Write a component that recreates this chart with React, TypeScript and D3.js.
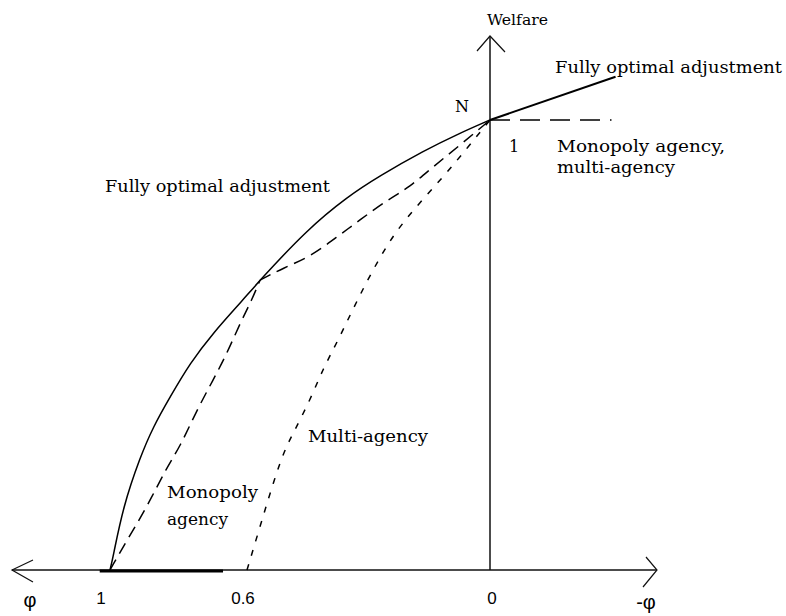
import * as d3 from "d3";

// phi on the horizontal axis (drawn right-to-left), welfare on the vertical
const xTickValues = [1, 0.6, 0];
const xTickLabels = ["1", "0.6", "0"];

const fullyOptimal: [number, number][] = [
  [1, 0], [0.991, 0.029], [0.962, 0.14], [0.912, 0.251], [0.874, 0.318],
  [0.825, 0.384], [0.766, 0.46], [0.699, 0.527], [0.612, 0.6], [0.568, 0.644],
  [0.452, 0.756], [0.353, 0.829], [0.272, 0.876], [0.165, 0.931], [0.074, 0.971], [0, 1],
];
const fullyOptimalBeyond: [number, number][] = [[0, 1], [-0.31, 1.096]];

const monopolyLower: [number, number][] = [
  [1, 0], [0.95, 0.067], [0.892, 0.14], [0.834, 0.229], [0.796, 0.273],
  [0.746, 0.356], [0.699, 0.422], [0.658, 0.482], [0.62, 0.549], [0.588, 0.6], [0.568, 0.644],
];
const monopolyUpper: [number, number][] = [
  [0.568, 0.644], [0.511, 0.671], [0.444, 0.696], [0.378, 0.74], [0.321, 0.778],
  [0.254, 0.822], [0.198, 0.851], [0.141, 0.896], [0.074, 0.944], [0, 1],
];

const multiAgency: [number, number][] = [
  [0.6, 0], [0.568, 0.096], [0.543, 0.171], [0.511, 0.26], [0.486, 0.304],
  [0.444, 0.378], [0.412, 0.448], [0.375, 0.51], [0.328, 0.6], [0.254, 0.727],
  [0.19, 0.8], [0.116, 0.873], [0.054, 0.94], [0, 1],
];

const sharedBeyond: [number, number][] = [[0, 1], [-0.3, 1]];
const thickSpan = [1.03, 0.67];

const W = 786;
const H = 616;

export default function App() {
  const x = d3.scaleLinear().domain([1, 0.6, 0]).range([110, 247, 490]);
  const y = d3.scaleLinear().domain([0, 1]).range([570, 120]);

  const smooth = d3
    .line<[number, number]>()
    .x(d => x(d[0]))
    .y(d => y(d[1]))
    .curve(d3.curveBasis);
  const straight = d3
    .line<[number, number]>()
    .x(d => x(d[0]))
    .y(d => y(d[1]));

  const x0 = x(0);
  const y0 = y(0);
  const font = "'DejaVu Serif', 'Liberation Serif', serif";
  const sans = "'Liberation Sans', Arial, sans-serif";

  return (
    <svg
      width={W}
      height={H}
      style={{ position: "absolute", left: 0, top: 0, background: "#fff" }}
    >
      {/* axes */}
      <g stroke="#111" strokeWidth={1.5} fill="none">
        <line x1={12} y1={y0} x2={657} y2={y0} />
        <line x1={x0} y1={y0} x2={x0} y2={36} />
        <polyline points={`33,560 12,${y0} 33,582`} strokeWidth={1.2} />
        <polyline points={`646,557 657,${y0} 643,587`} strokeWidth={1.2} />
        <polyline points={`477,51 ${x0},36 505,52`} strokeWidth={1.2} />
      </g>

      {/* thick segment on the phi axis */}
      <line
        x1={x(thickSpan[0])}
        x2={x(thickSpan[1])}
        y1={y0 + 1}
        y2={y0 + 1}
        stroke="#000"
        strokeWidth={3}
      />

      {/* curves */}
      <g fill="none" stroke="#000">
        <path d={smooth(fullyOptimal) ?? ""} strokeWidth={1.5} />
        <path d={straight(fullyOptimalBeyond) ?? ""} strokeWidth={2} />
        <path d={smooth(monopolyLower) ?? ""} strokeWidth={1.5} strokeDasharray="12,7" />
        <path d={smooth(monopolyUpper) ?? ""} strokeWidth={1.5} strokeDasharray="12,7" />
        <path d={smooth(multiAgency) ?? ""} strokeWidth={1.5} strokeDasharray="6,9" />
        <path d={straight(sharedBeyond) ?? ""} strokeWidth={1.5} strokeDasharray="20,10" />
      </g>

      {/* phi axis ticks */}
      <g fontFamily={sans} fontSize={17} fill="#000" textAnchor="middle">
        {xTickValues.map((v, i) => (
          <text key={i} x={x(v) - (i === 0 ? 9 : i === 1 ? 4 : -2)} y={604}>
            {xTickLabels[i]}
          </text>
        ))}
        <text x={30} y={607} fontSize={20}>φ</text>
        <text x={646} y={609} fontSize={20}>-φ</text>
      </g>

      {/* labels */}
      <g fontFamily={font} fontSize={17} fill="#000">
        <text x={487} y={25} fontSize={15} textLength={61} lengthAdjust="spacingAndGlyphs">Welfare</text>
        <text x={555} y={73} fontSize={16} textLength={227} lengthAdjust="spacingAndGlyphs">
          Fully optimal adjustment
        </text>
        <text x={455} y={112} fontSize={16}>N</text>
        <text x={509} y={152} fontSize={16}>1</text>
        <text x={557} y={152} textLength={168} lengthAdjust="spacingAndGlyphs">
          Monopoly agency,
        </text>
        <text x={557} y={173} textLength={118} lengthAdjust="spacingAndGlyphs">
          multi-agency
        </text>
        <text x={105} y={192} textLength={225} lengthAdjust="spacingAndGlyphs">
          Fully optimal adjustment
        </text>
        <text x={308} y={442} textLength={120} lengthAdjust="spacingAndGlyphs">
          Multi-agency
        </text>
        <text x={167} y={498} textLength={91} lengthAdjust="spacingAndGlyphs">
          Monopoly
        </text>
        <text x={167} y={525} textLength={61} lengthAdjust="spacingAndGlyphs">
          agency
        </text>
      </g>
    </svg>
  );
}
